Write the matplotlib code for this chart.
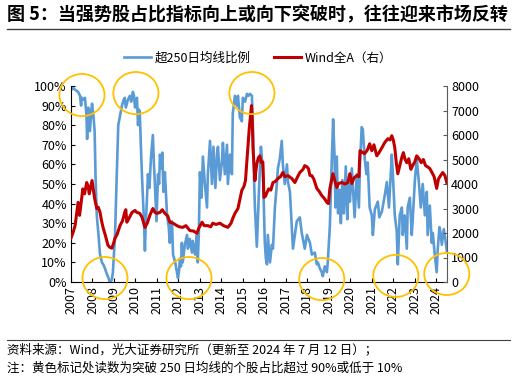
import matplotlib
matplotlib.use("Agg")
import matplotlib.pyplot as plt
from matplotlib.patches import Ellipse

plt.rcParams['font.family'] = ['Noto Sans CJK SC', 'DejaVu Sans']

# ---- data ----
blue_x = [2007.00, 2007.10, 2007.20, 2007.33, 2007.42, 2007.47, 2007.50, 2007.58, 2007.65, 2007.72,
          2007.75, 2007.80, 2007.88, 2007.95, 2007.98, 2008.05, 2008.10, 2008.14, 2008.20, 2008.28,
          2008.35, 2008.44, 2008.50, 2008.58, 2008.67, 2008.75, 2008.80, 2008.90, 2008.95, 2009.05,
          2009.13, 2009.20, 2009.30, 2009.37, 2009.45, 2009.50, 2009.55, 2009.65, 2009.74, 2009.80,
          2009.88, 2009.93, 2009.98, 2010.03, 2010.07, 2010.12, 2010.16, 2010.20, 2010.25, 2010.30,
          2010.37, 2010.40, 2010.44, 2010.48, 2010.53, 2010.58, 2010.65, 2010.72, 2010.81, 2010.86,
          2010.90, 2010.98, 2011.05, 2011.10, 2011.14, 2011.20, 2011.25, 2011.30, 2011.37, 2011.42,
          2011.47, 2011.55, 2011.60, 2011.65, 2011.70, 2011.75, 2011.85, 2011.93, 2011.98, 2012.03,
          2012.07, 2012.12, 2012.16, 2012.20, 2012.30, 2012.40, 2012.44, 2012.53, 2012.63, 2012.67,
          2012.77, 2012.86, 2012.90, 2012.95, 2013.00, 2013.07, 2013.14, 2013.23, 2013.33, 2013.37,
          2013.47, 2013.56, 2013.63, 2013.72, 2013.80, 2013.84, 2013.93, 2014.02, 2014.07, 2014.16,
          2014.26, 2014.30, 2014.40, 2014.49, 2014.53, 2014.63, 2014.72, 2014.77, 2014.86, 2014.95,
          2015.00, 2015.10, 2015.19, 2015.26, 2015.33, 2015.42, 2015.47, 2015.52, 2015.56, 2015.62,
          2015.65, 2015.70, 2015.76, 2015.84, 2015.90, 2015.93, 2016.02, 2016.07, 2016.12, 2016.16,
          2016.26, 2016.35, 2016.40, 2016.49, 2016.58, 2016.63, 2016.72, 2016.81, 2016.86, 2016.95,
          2017.05, 2017.10, 2017.19, 2017.28, 2017.33, 2017.42, 2017.51, 2017.65, 2017.74, 2017.88,
          2017.98, 2018.05, 2018.12, 2018.21, 2018.35, 2018.44, 2018.49, 2018.58, 2018.67, 2018.72,
          2018.81, 2018.91, 2018.95, 2019.05, 2019.14, 2019.20, 2019.26, 2019.31, 2019.37, 2019.43,
          2019.50, 2019.56, 2019.63, 2019.70, 2019.79, 2019.86, 2019.93, 2019.98, 2020.07, 2020.12,
          2020.20, 2020.30, 2020.40, 2020.45, 2020.53, 2020.58, 2020.67, 2020.75, 2020.81, 2020.90,
          2021.00, 2021.05, 2021.14, 2021.28, 2021.35, 2021.47, 2021.60, 2021.70, 2021.80, 2021.93,
          2021.98, 2022.07, 2022.16, 2022.21, 2022.30, 2022.40, 2022.44, 2022.53, 2022.63, 2022.67,
          2022.77, 2022.86, 2022.90, 2023.00, 2023.09, 2023.19, 2023.28, 2023.37, 2023.47, 2023.56,
          2023.60, 2023.70, 2023.79, 2023.84, 2023.93, 2024.02, 2024.07, 2024.15, 2024.20, 2024.26,
          2024.35, 2024.42, 2024.49]
blue_y = [98, 99, 98, 97, 95, 90, 94, 93, 94, 85,
          73, 89, 77, 88, 91, 84, 77, 55, 34, 24,
          14, 10, 9, 7, 4, 2, 0, 1, 5, 24,
          55, 80, 86, 90, 93, 94, 89, 93, 95, 92,
          97, 95, 89, 92, 94, 80, 88, 87, 70, 55,
          38, 30, 16, 30, 41, 55, 48, 63, 75, 60,
          51, 31, 55, 50, 65, 58, 66, 46, 56, 45,
          34, 28, 20, 30, 31, 14, 10, 5, 2, 6,
          12, 8, 20, 10, 19, 24, 17, 22, 15, 21,
          14, 24, 10, 25, 56, 43, 64, 50, 38, 55,
          72, 50, 69, 48, 66, 69, 52, 61, 71, 55,
          70, 50, 65, 55, 86, 95, 90, 95, 84, 82,
          94, 92, 96, 95, 96, 95, 78, 52, 38, 25,
          18, 32, 50, 69, 61, 58, 20, 12, 9, 24,
          10, 19, 17, 38, 50, 58, 63, 72, 60, 50,
          60, 51, 46, 28, 17, 24, 31, 33, 25, 17,
          24, 22, 20, 14, 15, 9, 10, 7, 5, 3,
          8, 5, 10, 29, 63, 83, 66, 38, 64, 35,
          47, 30, 52, 35, 59, 32, 52, 41, 58, 48,
          33, 55, 38, 60, 79, 78, 63, 55, 61, 38,
          34, 24, 37, 41, 33, 36, 44, 51, 38, 65,
          55, 34, 26, 9, 34, 38, 24, 34, 17, 38,
          43, 24, 31, 51, 63, 51, 38, 50, 34, 46,
          24, 39, 20, 25, 14, 5, 17, 28, 25, 19,
          27, 22, 16]

red_x = [2007.00, 2007.10, 2007.19, 2007.28, 2007.33, 2007.40, 2007.48, 2007.55, 2007.63, 2007.73,
         2007.80, 2007.85, 2007.92, 2007.98, 2008.05, 2008.10, 2008.20, 2008.27, 2008.35, 2008.42,
         2008.50, 2008.60, 2008.72, 2008.80, 2008.90, 2008.97, 2009.05, 2009.15, 2009.28, 2009.40,
         2009.50, 2009.55, 2009.60, 2009.70, 2009.84, 2009.98, 2010.05, 2010.20, 2010.30, 2010.37,
         2010.44, 2010.55, 2010.67, 2010.81, 2010.90, 2011.00, 2011.14, 2011.25, 2011.37, 2011.50,
         2011.60, 2011.75, 2011.93, 2012.05, 2012.20, 2012.35, 2012.53, 2012.70, 2012.86, 2012.95,
         2013.10, 2013.20, 2013.37, 2013.50, 2013.60, 2013.75, 2013.93, 2014.10, 2014.30, 2014.45,
         2014.53, 2014.63, 2014.77, 2014.95, 2015.05, 2015.12, 2015.23, 2015.30, 2015.40, 2015.44,
         2015.47, 2015.52, 2015.56, 2015.60, 2015.65, 2015.72, 2015.79, 2015.86, 2015.93, 2015.98,
         2016.05, 2016.12, 2016.20, 2016.30, 2016.40, 2016.50, 2016.63, 2016.75, 2016.86, 2016.95,
         2017.10, 2017.28, 2017.42, 2017.55, 2017.65, 2017.80, 2017.88, 2017.98, 2018.05, 2018.12,
         2018.21, 2018.30, 2018.44, 2018.55, 2018.67, 2018.80, 2018.91, 2018.98, 2019.05, 2019.19,
         2019.28, 2019.37, 2019.45, 2019.60, 2019.75, 2019.88, 2019.98, 2020.07, 2020.18, 2020.30,
         2020.40, 2020.45, 2020.55, 2020.67, 2020.80, 2020.90, 2021.00, 2021.10, 2021.23, 2021.35,
         2021.47, 2021.60, 2021.75, 2021.85, 2021.93, 2022.00, 2022.07, 2022.14, 2022.21, 2022.30,
         2022.40, 2022.47, 2022.55, 2022.63, 2022.72, 2022.82, 2022.90, 2023.00, 2023.09, 2023.20,
         2023.30, 2023.40, 2023.50, 2023.60, 2023.70, 2023.80, 2023.90, 2024.02, 2024.10, 2024.20,
         2024.30, 2024.40, 2024.49]
red_y = [1790, 2030, 2300, 2900, 3250, 2720, 3300, 3800, 3600, 4060,
         3900, 3600, 3900, 4140, 3700, 3400, 3000, 3050, 2850, 2500,
         2200, 1900, 1500, 1420, 1380, 1550, 1790, 1950, 2300, 2500,
         2840, 2950, 2440, 2600, 2840, 2920, 2850, 2800, 2650, 2450,
         2230, 2400, 2720, 3000, 2850, 2800, 2840, 2950, 2800, 2700,
         2440, 2400, 2300, 2250, 2230, 2300, 2100, 2080, 1990, 2200,
         2440, 2300, 2300, 2250, 2400, 2350, 2400, 2300, 2230, 2400,
         2600, 2800, 3000, 3740, 3900, 4140, 5480, 6300, 7200, 6500,
         5480, 4700, 4140, 4500, 4830, 5070, 5150, 4870, 4900, 3450,
         3500, 3650, 3800, 3750, 4060, 4100, 4220, 4300, 4470, 4300,
         4340, 4220, 4060, 4300, 4470, 4600, 4750, 4700, 4630, 4350,
         4340, 4200, 3820, 3700, 3530, 3400, 3250, 3200, 3820, 4420,
         4140, 3860, 4020, 4060, 4000, 4060, 4420, 4020, 4260, 4340,
         4300, 5360, 5300, 5240, 5400, 5640, 5360, 5600, 5150, 5300,
         5480, 5690, 5850, 5800, 5970, 5800, 5480, 4870, 4420, 4750,
         5100, 5280, 5000, 4870, 5030, 4600, 4750, 4900, 5150, 5030,
         4870, 5000, 4750, 4700, 4630, 4470, 4300, 3820, 4200, 4340,
         4470, 4350, 4060]

years = list(range(2007, 2025))
year_labels = [str(y) for y in years]
left_ticks = list(range(0, 101, 10))
right_ticks = list(range(0, 8001, 1000))

# highlighted zones (year, percent)
circle_x = [2007.51, 2010.02, 2008.58, 2012.49, 2015.42, 2018.67, 2022.12, 2024.49]
circle_y = [95.4, 96.4, 2.0, 2.0, 96.4, 1.5, 3.1, 4.1]

blue_label = '超250日均线比例'
red_label = 'Wind全A（右）'
title = '图 5：当强势股占比指标向上或向下突破时，往往迎来市场反转'
note1 = '资料来源：Wind，光大证券研究所（更新至 2024 年 7 月 12 日）；'
note2 = '注：黄色标记处读数为突破 250 日均线的个股占比超过 90%或低于 10%'

# ---- figure ----
fig = plt.figure(figsize=(5.16, 3.79), dpi=100)
ax = fig.add_axes([71/516, 1-282/379, (447-71)/516, (282-86)/379])
ax2 = ax.twinx()

BLUE = '#5B9BD5'
RED = '#C00000'
lb, = ax.plot(blue_x, blue_y, color=BLUE, lw=1.9, zorder=2)
lr, = ax2.plot(red_x, red_y, color=RED, lw=2.2, zorder=3)

ax.set_xlim(2007, 2024.5)
ax.set_ylim(0, 100)
ax2.set_ylim(0, 8000)

ax.set_xticks(years)
ax.set_xticklabels(year_labels, rotation=90, fontsize=9)
ax.set_yticks(left_ticks)
ax.set_yticklabels([f'{v}%' for v in left_ticks], fontsize=9)
ax2.set_yticks(right_ticks)
ax2.set_yticklabels([str(v) for v in right_ticks], fontsize=9)

ax.tick_params(axis='x', direction='in', length=3, pad=3, colors='#000000')
ax.tick_params(axis='y', direction='in', length=3, pad=3)
ax2.tick_params(axis='y', direction='in', length=3, pad=3, colors='#000000')
ax2.tick_params(axis='y', color='#595959')

for a in (ax, ax2):
    a.spines['top'].set_visible(False)
ax.spines['right'].set_visible(False)
ax2.spines['left'].set_visible(False)
ax2.spines['bottom'].set_visible(False)
ax.spines['left'].set_color('#000000')
ax.spines['bottom'].set_color('#000000')
ax2.spines['right'].set_color('#595959')

# highlight ellipses
for cx, cy in zip(circle_x, circle_y):
    e = Ellipse((cx, cy), width=2.1, height=21.5, transform=ax.transData,
                fill=False, edgecolor='#FFC000', lw=1.3, clip_on=False, zorder=5)
    ax2.add_patch(e)

# legend
fig.legend([lb, lr], [blue_label, red_label], loc='center', bbox_to_anchor=(0.5, 1-58/379),
           ncol=2, frameon=False, fontsize=9, handlelength=2.2, columnspacing=1.8,
           handletextpad=0.3)

# title and rules
fig.text(7/516, 1-15/379, title, fontsize=13, fontweight='bold', va='center', ha='left')
fig.add_artist(plt.Line2D([7/516, 510/516], [1-29/379, 1-29/379], color='#404040', lw=1.0))
fig.add_artist(plt.Line2D([7/516, 510/516], [1-340/379, 1-340/379], color='#404040', lw=0.8))
fig.text(7/516, 1-350/379, note1, fontsize=9, va='center', ha='left')
fig.text(7/516, 1-368/379, note2, fontsize=9, va='center', ha='left')

fig.savefig('out.png', dpi=100)
